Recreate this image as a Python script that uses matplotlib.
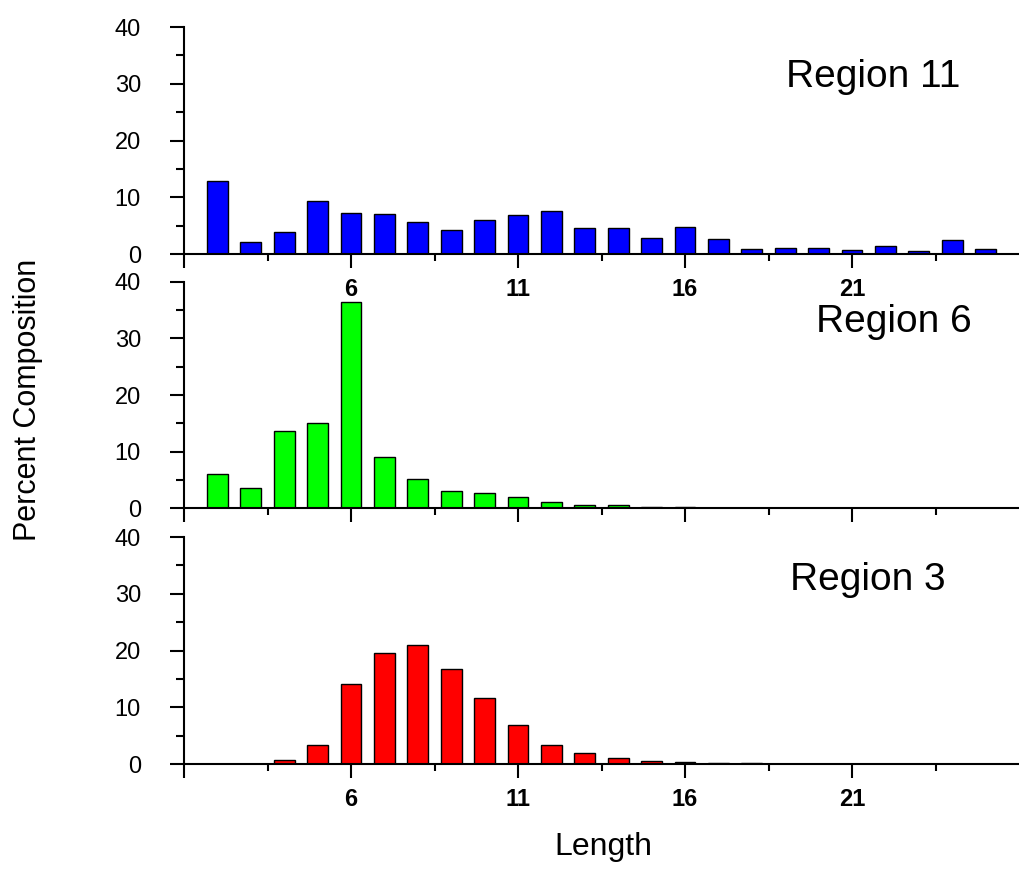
import numpy as np
import matplotlib
matplotlib.use("Agg")
import matplotlib.pyplot as plt

plt.rcParams["font.family"] = ["Liberation Sans", "DejaVu Sans"]

# chain lengths 2..25
lengths = np.arange(2, 26)

region11 = [12.9, 2.2, 3.8, 9.3, 7.2, 7.0, 5.7, 4.3, 6.0, 6.9, 7.5, 4.5,
            4.5, 2.9, 4.7, 2.6, 0.8, 1.0, 1.0, 0.7, 1.4, 0.6, 2.4, 0.9]
region6 = [6.0, 3.5, 13.7, 15.1, 36.4, 9.0, 5.1, 3.0, 2.65, 1.9, 1.0, 0.5,
           0.45, 0.2, 0.1, 0.05, 0.02, 0.0, 0.0, 0.0, 0.0, 0.0, 0.0, 0.0]
region3 = [0.0, 0.0, 0.7, 3.4, 14.1, 19.5, 21.0, 16.7, 11.7, 6.8, 3.3, 1.9,
           1.0, 0.5, 0.3, 0.15, 0.1, 0.0, 0.0, 0.0, 0.0, 0.0, 0.0, 0.0]

panels = [
    ("Region 11", region11, "#0000ff", (0.721, 0.736)),
    ("Region 6", region6, "#00ff00", (0.757, 0.779)),
    ("Region 3", region3, "#ff0000", (0.726, 0.767)),
]

major_x = [1, 6, 11, 16, 21]
major_xlabels = ["", "6", "11", "16", "21"]
minor_x = [3.5, 8.5, 13.5, 18.5, 23.5]

fig = plt.figure(figsize=(10.19, 8.69), dpi=100)

# axes boxes in figure fractions (left, bottom, width, height)
boxes = [
    (0.1806, 0.7077, 0.8194, 0.2612),
    (0.1806, 0.4154, 0.8194, 0.2601),
    (0.1806, 0.1208, 0.8194, 0.2612),
]

for i, ((name, vals, col, txtpos), box) in enumerate(zip(panels, boxes)):
    ax = fig.add_axes(box)
    ax.bar(lengths, vals, width=0.62, color=col, edgecolor="black",
           linewidth=1.0, zorder=2)
    ax.set_xlim(1, 26)
    ax.set_ylim(0, 40)
    ax.spines["top"].set_visible(False)
    ax.spines["right"].set_visible(False)
    for s in ("left", "bottom"):
        ax.spines[s].set_linewidth(1.5)
        ax.spines[s].set_zorder(3)
    ax.set_yticks([0, 10, 20, 30, 40])
    ax.set_yticks([5, 15, 25, 35], minor=True)
    ax.set_xticks(major_x)
    ax.set_xticks(minor_x, minor=True)
    if i == 1:
        ax.set_xticklabels([""] * len(major_x))
    else:
        ax.set_xticklabels(major_xlabels, fontweight="bold")
    ax.tick_params(axis="x", which="major", length=10, width=1.5,
                   labelsize=17, pad=7, direction="out")
    ax.tick_params(axis="x", which="minor", length=5, width=1.5,
                   direction="out")
    ax.tick_params(axis="y", which="major", length=10, width=1.5,
                   labelsize=17, pad=21, direction="out")
    ax.tick_params(axis="y", which="minor", length=6, width=1.5,
                   direction="out")
    ax.patch.set_alpha(0)
    ax.text(txtpos[0], txtpos[1], name, transform=ax.transAxes,
            fontsize=28, ha="left", va="baseline")

fig.text(0.0275, 1 - 400 / 869, "Percent Composition", rotation=90,
         fontsize=22, ha="center", va="center")
fig.text(0.592, 1 - 855 / 869, "Length", fontsize=23, ha="center",
         va="baseline")

fig.savefig("out.png", dpi=100)
